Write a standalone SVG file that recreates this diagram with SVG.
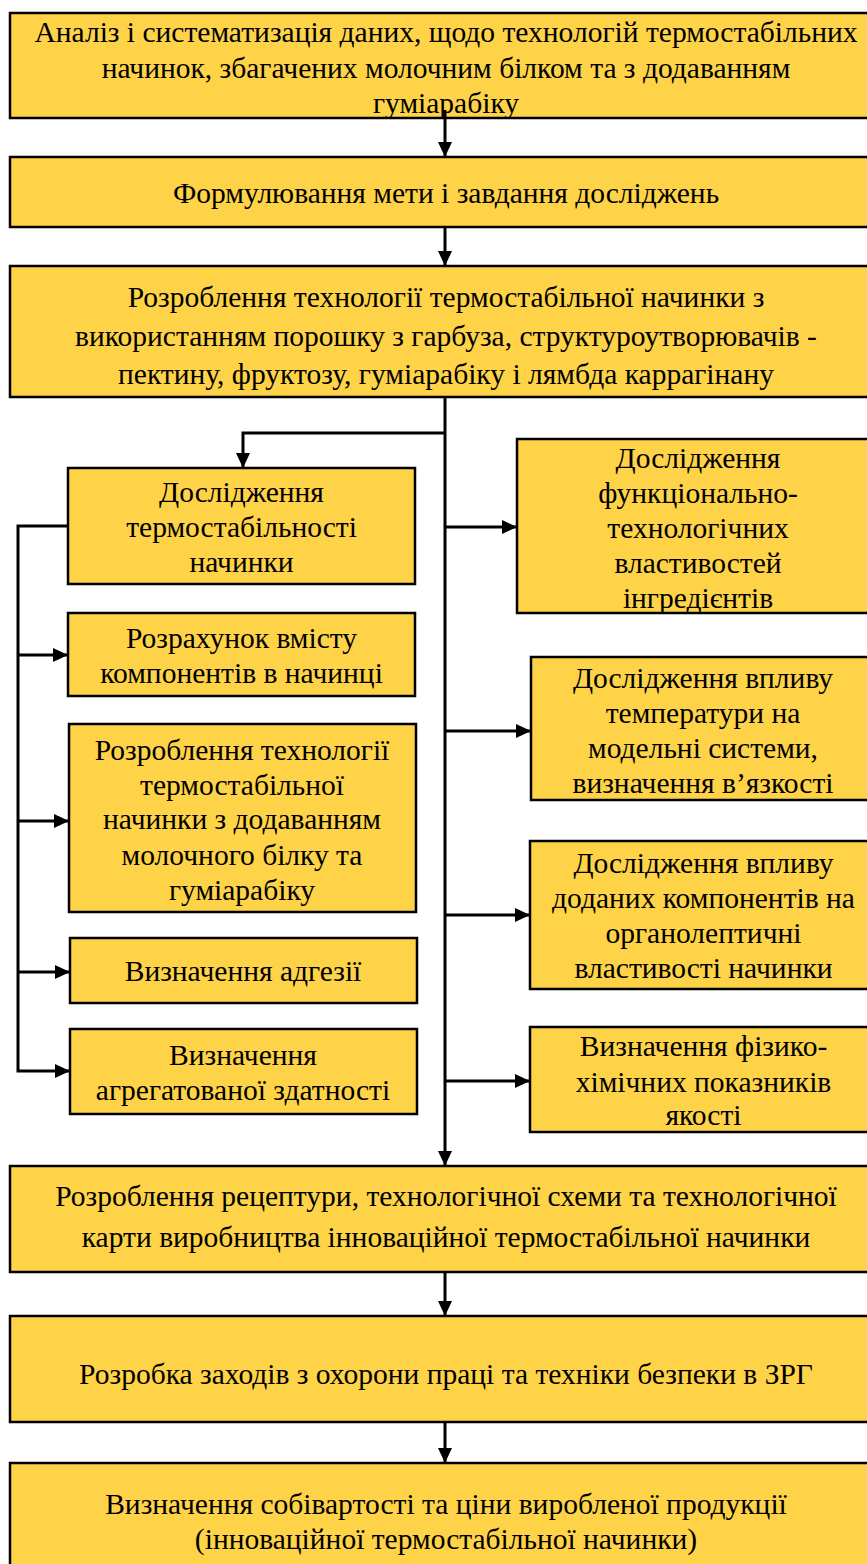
<svg xmlns="http://www.w3.org/2000/svg" width="867" height="1564" viewBox="0 0 867 1564">
<style>
.box{fill:#FED347;stroke:#000;stroke-width:2.5}
.t{font-family:"Liberation Serif","Times New Roman",serif;font-size:29.5px;fill:#000;text-anchor:middle}
.c{fill:none;stroke:#000;stroke-width:3}
</style>
<defs>
<marker id="ah" markerUnits="userSpaceOnUse" markerWidth="16" markerHeight="16" viewBox="0 0 16 16" refX="14" refY="8" orient="auto">
<path d="M0,1 L15,8 L0,15 Z" fill="#000"/>
</marker>
</defs>
<rect width="867" height="1564" fill="#fff"/>
<g id="n1"><rect class="box" x="10" y="13" width="875" height="105"/>
<text class="t" x="446" y="42">Аналіз і систематизація даних, щодо технологій термостабільних</text>
<text class="t" x="446" y="78">начинок, збагачених молочним білком та з додаванням</text>
<text class="t" x="446" y="113">гуміарабіку</text></g>
<g id="n2"><rect class="box" x="10" y="157" width="875" height="70"/>
<text class="t" x="446" y="203">Формулювання мети і завдання досліджень</text></g>
<g id="n3"><rect class="box" x="10" y="266" width="875" height="131"/>
<text class="t" x="446" y="307">Розроблення технології термостабільної начинки з</text>
<text class="t" x="446" y="346">використанням порошку з гарбуза, структуроутворювачів -</text>
<text class="t" x="446" y="384">пектину, фруктозу, гуміарабіку і лямбда каррагінану</text></g>
<g id="l1"><rect class="box" x="68" y="468" width="347" height="116"/>
<text class="t" x="241.5" y="502">Дослідження</text>
<text class="t" x="241.5" y="537">термостабільності</text>
<text class="t" x="241.5" y="572">начинки</text></g>
<g id="l2"><rect class="box" x="68" y="613" width="347" height="83"/>
<text class="t" x="241.5" y="648">Розрахунок вмісту</text>
<text class="t" x="241.5" y="683">компонентів в начинці</text></g>
<g id="l3"><rect class="box" x="69" y="724" width="347" height="188"/>
<text class="t" x="242" y="760">Розроблення технології</text>
<text class="t" x="242" y="795">термостабільної</text>
<text class="t" x="242" y="829">начинки з додаванням</text>
<text class="t" x="242" y="865">молочного білку та</text>
<text class="t" x="242" y="900">гуміарабіку</text></g>
<g id="l4"><rect class="box" x="70" y="938" width="347" height="65"/>
<text class="t" x="243" y="981">Визначення адгезії</text></g>
<g id="l5"><rect class="box" x="70" y="1029" width="347" height="85"/>
<text class="t" x="243" y="1065">Визначення</text>
<text class="t" x="243" y="1100">агрегатованої здатності</text></g>
<g id="r1"><rect class="box" x="517" y="439" width="368" height="174"/>
<text class="t" x="698" y="468">Дослідження</text>
<text class="t" x="698" y="503">функціонально-</text>
<text class="t" x="698" y="538">технологічних</text>
<text class="t" x="698" y="573">властивостей</text>
<text class="t" x="698" y="608">інгредієнтів</text></g>
<g id="r2"><rect class="box" x="531" y="657" width="354" height="143"/>
<text class="t" x="703" y="688">Дослідження впливу</text>
<text class="t" x="703" y="723">температури на</text>
<text class="t" x="703" y="758">модельні системи,</text>
<text class="t" x="703" y="793">визначення в’язкості</text></g>
<g id="r3"><rect class="box" x="530" y="841" width="355" height="148"/>
<text class="t" x="703.5" y="873">Дослідження впливу</text>
<text class="t" x="703.5" y="908">доданих компонентів на</text>
<text class="t" x="703.5" y="943">органолептичні</text>
<text class="t" x="703.5" y="978">властивості начинки</text></g>
<g id="r4"><rect class="box" x="530" y="1027" width="355" height="105"/>
<text class="t" x="703.5" y="1056">Визначення фізико-</text>
<text class="t" x="703.5" y="1092">хімічних показників</text>
<text class="t" x="703.5" y="1125">якості</text></g>
<g id="n7"><rect class="box" x="10" y="1166" width="875" height="106"/>
<text class="t" x="446" y="1206">Розроблення рецептури, технологічної схеми та технологічної</text>
<text class="t" x="446" y="1247">карти виробництва інноваційної термостабільної начинки</text></g>
<g id="n8"><rect class="box" x="10" y="1316" width="875" height="106"/>
<text class="t" x="446" y="1384">Розробка заходів з охорони праці та техніки безпеки в ЗРГ</text></g>
<g id="n9"><rect class="box" x="10" y="1463" width="875" height="120"/>
<text class="t" x="446" y="1514">Визначення собівартості та ціни виробленої продукції</text>
<text class="t" x="446" y="1549">(інноваційної термостабільної начинки)</text></g>
<g id="connectors">
<path class="c" d="M445 110 V156" marker-end="url(#ah)"/>
<path class="c" d="M445 227 V265" marker-end="url(#ah)"/>
<path class="c" d="M445 397 V1165" marker-end="url(#ah)"/>
<path class="c" d="M445 433 H243 V467" marker-end="url(#ah)"/>
<path class="c" d="M445 527 H516" marker-end="url(#ah)"/>
<path class="c" d="M445 731 H530" marker-end="url(#ah)"/>
<path class="c" d="M445 915 H529" marker-end="url(#ah)"/>
<path class="c" d="M445 1081 H529" marker-end="url(#ah)"/>
<path class="c" d="M68 526 H18 V1071 H69" marker-end="url(#ah)"/>
<path class="c" d="M18 655 H67" marker-end="url(#ah)"/>
<path class="c" d="M18 821 H68" marker-end="url(#ah)"/>
<path class="c" d="M18 972 H69" marker-end="url(#ah)"/>
<path class="c" d="M445 1272 V1315" marker-end="url(#ah)"/>
<path class="c" d="M445 1422 V1462" marker-end="url(#ah)"/>
</g>
</svg>
